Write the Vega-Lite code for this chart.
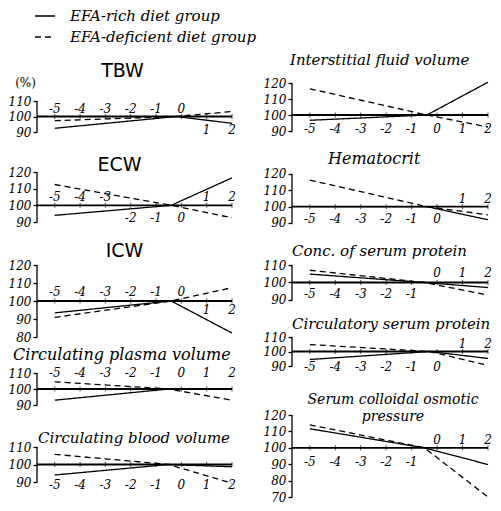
{
"$schema": "https://vega.github.io/schema/vega-lite/v6.json",
"background": "white",
"padding": {"left": 8, "top": 5, "right": 13, "bottom": 8},
"datasets": {
"ticks": [{"t": -5}, {"t": -4}, {"t": -3}, {"t": -2}, {"t": -1}, {"t": 0}, {"t": 1}, {"t": 2}],
"lines": [
{"panel": "TBW", "group": "EFA-rich diet group", "x": -5, "y": 92.4}, {"panel": "TBW", "group": "EFA-rich diet group", "x": -0.2, "y": 100}, {"panel": "TBW", "group": "EFA-rich diet group", "x": 2, "y": 95.6},
{"panel": "TBW", "group": "EFA-deficient diet group", "x": -5, "y": 97.3}, {"panel": "TBW", "group": "EFA-deficient diet group", "x": -0.2, "y": 100}, {"panel": "TBW", "group": "EFA-deficient diet group", "x": 2, "y": 103.2},
{"panel": "ECW", "group": "EFA-rich diet group", "x": -5, "y": 94}, {"panel": "ECW", "group": "EFA-rich diet group", "x": -0.4, "y": 100}, {"panel": "ECW", "group": "EFA-rich diet group", "x": 2, "y": 116.5},
{"panel": "ECW", "group": "EFA-deficient diet group", "x": -5, "y": 112.5}, {"panel": "ECW", "group": "EFA-deficient diet group", "x": -0.4, "y": 100}, {"panel": "ECW", "group": "EFA-deficient diet group", "x": 2, "y": 92.5},
{"panel": "ICW", "group": "EFA-rich diet group", "x": -5, "y": 93.4}, {"panel": "ICW", "group": "EFA-rich diet group", "x": -0.4, "y": 100}, {"panel": "ICW", "group": "EFA-rich diet group", "x": 2, "y": 82.2},
{"panel": "ICW", "group": "EFA-deficient diet group", "x": -5, "y": 90.9}, {"panel": "ICW", "group": "EFA-deficient diet group", "x": -0.4, "y": 100}, {"panel": "ICW", "group": "EFA-deficient diet group", "x": 2, "y": 107.4},
{"panel": "Plasma", "group": "EFA-rich diet group", "x": -5, "y": 93}, {"panel": "Plasma", "group": "EFA-rich diet group", "x": -0.5, "y": 100}, {"panel": "Plasma", "group": "EFA-rich diet group", "x": 2, "y": 100},
{"panel": "Plasma", "group": "EFA-deficient diet group", "x": -5, "y": 104.5}, {"panel": "Plasma", "group": "EFA-deficient diet group", "x": -0.5, "y": 100}, {"panel": "Plasma", "group": "EFA-deficient diet group", "x": 2, "y": 93},
{"panel": "Blood", "group": "EFA-rich diet group", "x": -5, "y": 94}, {"panel": "Blood", "group": "EFA-rich diet group", "x": -0.5, "y": 100}, {"panel": "Blood", "group": "EFA-rich diet group", "x": 2, "y": 98.7},
{"panel": "Blood", "group": "EFA-deficient diet group", "x": -5, "y": 105.8}, {"panel": "Blood", "group": "EFA-deficient diet group", "x": -0.5, "y": 100}, {"panel": "Blood", "group": "EFA-deficient diet group", "x": 2, "y": 89.3},
{"panel": "Inter", "group": "EFA-rich diet group", "x": -5, "y": 96.7}, {"panel": "Inter", "group": "EFA-rich diet group", "x": -0.4, "y": 100}, {"panel": "Inter", "group": "EFA-rich diet group", "x": 2, "y": 120.5},
{"panel": "Inter", "group": "EFA-deficient diet group", "x": -5, "y": 116.4}, {"panel": "Inter", "group": "EFA-deficient diet group", "x": -0.4, "y": 100}, {"panel": "Inter", "group": "EFA-deficient diet group", "x": 2, "y": 92.5},
{"panel": "Hema", "group": "EFA-rich diet group", "x": -5, "y": 100}, {"panel": "Hema", "group": "EFA-rich diet group", "x": -0.4, "y": 100}, {"panel": "Hema", "group": "EFA-rich diet group", "x": 2, "y": 92},
{"panel": "Hema", "group": "EFA-deficient diet group", "x": -5, "y": 116.3}, {"panel": "Hema", "group": "EFA-deficient diet group", "x": -0.4, "y": 100}, {"panel": "Hema", "group": "EFA-deficient diet group", "x": 2, "y": 95},
{"panel": "Conc", "group": "EFA-rich diet group", "x": -5, "y": 104.8}, {"panel": "Conc", "group": "EFA-rich diet group", "x": -0.5, "y": 100}, {"panel": "Conc", "group": "EFA-rich diet group", "x": 2, "y": 97.1},
{"panel": "Conc", "group": "EFA-deficient diet group", "x": -5, "y": 107}, {"panel": "Conc", "group": "EFA-deficient diet group", "x": -0.5, "y": 100}, {"panel": "Conc", "group": "EFA-deficient diet group", "x": 2, "y": 92.8},
{"panel": "Circ", "group": "EFA-rich diet group", "x": -5, "y": 94.5}, {"panel": "Circ", "group": "EFA-rich diet group", "x": -0.3, "y": 100}, {"panel": "Circ", "group": "EFA-rich diet group", "x": 2, "y": 95.2},
{"panel": "Circ", "group": "EFA-deficient diet group", "x": -5, "y": 104.8}, {"panel": "Circ", "group": "EFA-deficient diet group", "x": -0.3, "y": 100}, {"panel": "Circ", "group": "EFA-deficient diet group", "x": 2, "y": 90.4},
{"panel": "Osm", "group": "EFA-rich diet group", "x": -5, "y": 111.6}, {"panel": "Osm", "group": "EFA-rich diet group", "x": -0.5, "y": 100}, {"panel": "Osm", "group": "EFA-rich diet group", "x": 2, "y": 89.8},
{"panel": "Osm", "group": "EFA-deficient diet group", "x": -5, "y": 114}, {"panel": "Osm", "group": "EFA-deficient diet group", "x": -0.5, "y": 100}, {"panel": "Osm", "group": "EFA-deficient diet group", "x": 2, "y": 70}
]
},
"columns": 2,
"align": "none",
"bounds": "flush",
"spacing": {"row": 0, "column": 60},
"concat": [
{
"width": 195, "height": 89,
"title": {"text": "TBW", "font": "DejaVu Sans", "fontStyle": "normal", "fontSize": 19, "anchor": "middle", "dx": -12, "offset": -5},
"layer": [
{"data": {"values": [{}]}, "mark": {"type": "rule", "color": "black", "strokeWidth": 1.3},
 "encoding": {"x": {"datum": -5.7, "type": "quantitative", "scale": {"domain": [-5.7, 2], "nice": false, "zero": false}, "axis": null},
  "y": {"datum": 90, "type": "quantitative", "title": "(%)", "scale": {"domain": [64.194, 121.613], "nice": false, "zero": false}, "axis": {"values": [90, 100, 110], "labelOverlap": false, "tickCount": 20}},
  "y2": {"datum": 110}}},
{"data": {"values": [{}]}, "mark": {"type": "rule", "color": "black", "strokeWidth": 1.8},
 "encoding": {"y": {"datum": 100, "type": "quantitative", "title": "(%)", "scale": {"domain": [64.194, 121.613], "nice": false, "zero": false}}}},
{"data": {"name": "ticks"}, "mark": {"type": "tick", "orient": "vertical", "size": 5, "thickness": 1, "color": "black"},
 "encoding": {"x": {"field": "t", "type": "quantitative", "scale": {"domain": [-5.7, 2], "nice": false, "zero": false}, "axis": null},
  "y": {"datum": 100, "type": "quantitative", "title": "(%)", "scale": {"domain": [64.194, 121.613], "nice": false, "zero": false}}}},
{"data": {"name": "ticks"}, "transform": [{"filter": {"field": "t", "oneOf": [-5, -4, -3, -2, -1, 0]}}],
 "mark": {"type": "text", "dy": -8, "baseline": "middle", "font": "DejaVu Serif", "fontStyle": "italic", "fontSize": 12, "color": "black"},
 "encoding": {"x": {"field": "t", "type": "quantitative", "scale": {"domain": [-5.7, 2], "nice": false, "zero": false}, "axis": null},
  "y": {"datum": 100, "type": "quantitative", "title": "(%)", "scale": {"domain": [64.194, 121.613], "nice": false, "zero": false}},
  "text": {"field": "t", "type": "nominal"}}},
{"data": {"name": "ticks"}, "transform": [{"filter": {"field": "t", "oneOf": [1, 2]}}],
 "mark": {"type": "text", "dy": 13, "baseline": "middle", "font": "DejaVu Serif", "fontStyle": "italic", "fontSize": 12, "color": "black"},
 "encoding": {"x": {"field": "t", "type": "quantitative", "scale": {"domain": [-5.7, 2], "nice": false, "zero": false}, "axis": null},
  "y": {"datum": 100, "type": "quantitative", "title": "(%)", "scale": {"domain": [64.194, 121.613], "nice": false, "zero": false}},
  "text": {"field": "t", "type": "nominal"}}},
{"data": {"name": "lines"}, "transform": [{"filter": {"field": "panel", "equal": "TBW"}}],
 "mark": {"type": "line", "color": "black", "strokeWidth": 1.3},
 "encoding": {"x": {"field": "x", "type": "quantitative", "scale": {"domain": [-5.7, 2], "nice": false, "zero": false}, "axis": null},
  "y": {"field": "y", "type": "quantitative", "title": "(%)", "scale": {"domain": [64.194, 121.613], "nice": false, "zero": false}},
  "strokeDash": {"field": "group", "type": "nominal", "title": null, "scale": {"domain": ["EFA-rich diet group", "EFA-deficient diet group"], "range": [[1, 0], [6, 4]]}}}}
]
},
{
"width": 196, "height": 89,
"title": {"text": "Interstitial fluid volume", "anchor": "start", "dx": -2, "offset": 9, "fontSize": 15},
"layer": [
{"data": {"values": [{}]}, "mark": {"type": "rule", "color": "black", "strokeWidth": 1.3},
 "encoding": {"x": {"datum": -5.7, "type": "quantitative", "scale": {"domain": [-5.7, 2], "nice": false, "zero": false}, "axis": null},
  "y": {"datum": 90, "type": "quantitative", "title": null, "scale": {"domain": [64.375, 120], "nice": false, "zero": false}, "axis": {"values": [90, 100, 110, 120], "labelOverlap": false, "tickCount": 20}},
  "y2": {"datum": 120}}},
{"data": {"values": [{}]}, "mark": {"type": "rule", "color": "black", "strokeWidth": 1.8},
 "encoding": {"y": {"datum": 100, "type": "quantitative", "title": null, "scale": {"domain": [64.375, 120], "nice": false, "zero": false}}}},
{"data": {"name": "ticks"}, "mark": {"type": "tick", "orient": "vertical", "size": 5, "thickness": 1, "color": "black"},
 "encoding": {"x": {"field": "t", "type": "quantitative", "scale": {"domain": [-5.7, 2], "nice": false, "zero": false}, "axis": null},
  "y": {"datum": 100, "type": "quantitative", "title": null, "scale": {"domain": [64.375, 120], "nice": false, "zero": false}}}},
{"data": {"name": "ticks"},
 "mark": {"type": "text", "dy": 14, "baseline": "middle", "font": "DejaVu Serif", "fontStyle": "italic", "fontSize": 12, "color": "black"},
 "encoding": {"x": {"field": "t", "type": "quantitative", "scale": {"domain": [-5.7, 2], "nice": false, "zero": false}, "axis": null},
  "y": {"datum": 100, "type": "quantitative", "title": null, "scale": {"domain": [64.375, 120], "nice": false, "zero": false}},
  "text": {"field": "t", "type": "nominal"}}},
{"data": {"name": "lines"}, "transform": [{"filter": {"field": "panel", "equal": "Inter"}}],
 "mark": {"type": "line", "color": "black", "strokeWidth": 1.3},
 "encoding": {"x": {"field": "x", "type": "quantitative", "scale": {"domain": [-5.7, 2], "nice": false, "zero": false}, "axis": null},
  "y": {"field": "y", "type": "quantitative", "title": null, "scale": {"domain": [64.375, 120], "nice": false, "zero": false}},
  "strokeDash": {"field": "group", "type": "nominal", "title": null, "scale": {"domain": ["EFA-rich diet group", "EFA-deficient diet group"], "range": [[1, 0], [6, 4]]}}}}
]
},
{
"width": 195, "height": 93,
"title": {"text": "ECW", "font": "DejaVu Sans", "fontStyle": "normal", "fontSize": 19, "anchor": "middle", "dx": -15, "offset": -9},
"layer": [
{"data": {"values": [{}]}, "mark": {"type": "rule", "color": "black", "strokeWidth": 1.3},
 "encoding": {"x": {"datum": -5.7, "type": "quantitative", "scale": {"domain": [-5.7, 2], "nice": false, "zero": false}, "axis": null},
  "y": {"datum": 90, "type": "quantitative", "title": null, "scale": {"domain": [64.2, 120], "nice": false, "zero": false}, "axis": {"values": [90, 100, 110, 120], "labelOverlap": false, "tickCount": 20}},
  "y2": {"datum": 120}}},
{"data": {"values": [{}]}, "mark": {"type": "rule", "color": "black", "strokeWidth": 1.8},
 "encoding": {"y": {"datum": 100, "type": "quantitative", "title": null, "scale": {"domain": [64.2, 120], "nice": false, "zero": false}}}},
{"data": {"name": "ticks"}, "mark": {"type": "tick", "orient": "vertical", "size": 5, "thickness": 1, "color": "black"},
 "encoding": {"x": {"field": "t", "type": "quantitative", "scale": {"domain": [-5.7, 2], "nice": false, "zero": false}, "axis": null},
  "y": {"datum": 100, "type": "quantitative", "title": null, "scale": {"domain": [64.2, 120], "nice": false, "zero": false}}}},
{"data": {"name": "ticks"}, "transform": [{"filter": {"field": "t", "oneOf": [-5, -4, -3, 1, 2]}}],
 "mark": {"type": "text", "dy": -8, "baseline": "middle", "font": "DejaVu Serif", "fontStyle": "italic", "fontSize": 12, "color": "black"},
 "encoding": {"x": {"field": "t", "type": "quantitative", "scale": {"domain": [-5.7, 2], "nice": false, "zero": false}, "axis": null},
  "y": {"datum": 100, "type": "quantitative", "title": null, "scale": {"domain": [64.2, 120], "nice": false, "zero": false}},
  "text": {"field": "t", "type": "nominal"}}},
{"data": {"name": "ticks"}, "transform": [{"filter": {"field": "t", "oneOf": [-2, -1, 0]}}],
 "mark": {"type": "text", "dy": 13, "baseline": "middle", "font": "DejaVu Serif", "fontStyle": "italic", "fontSize": 12, "color": "black"},
 "encoding": {"x": {"field": "t", "type": "quantitative", "scale": {"domain": [-5.7, 2], "nice": false, "zero": false}, "axis": null},
  "y": {"datum": 100, "type": "quantitative", "title": null, "scale": {"domain": [64.2, 120], "nice": false, "zero": false}},
  "text": {"field": "t", "type": "nominal"}}},
{"data": {"name": "lines"}, "transform": [{"filter": {"field": "panel", "equal": "ECW"}}],
 "mark": {"type": "line", "color": "black", "strokeWidth": 1.3},
 "encoding": {"x": {"field": "x", "type": "quantitative", "scale": {"domain": [-5.7, 2], "nice": false, "zero": false}, "axis": null},
  "y": {"field": "y", "type": "quantitative", "title": null, "scale": {"domain": [64.2, 120], "nice": false, "zero": false}},
  "strokeDash": {"field": "group", "type": "nominal", "title": null, "scale": {"domain": ["EFA-rich diet group", "EFA-deficient diet group"], "range": [[1, 0], [6, 4]]}}}}
]
},
{
"width": 196, "height": 93,
"title": {"text": "Hematocrit", "anchor": "start", "dx": 36, "offset": 1, "fontSize": 16},
"layer": [
{"data": {"values": [{}]}, "mark": {"type": "rule", "color": "black", "strokeWidth": 1.3},
 "encoding": {"x": {"datum": -5.7, "type": "quantitative", "scale": {"domain": [-5.7, 2], "nice": false, "zero": false}, "axis": null},
  "y": {"datum": 90, "type": "quantitative", "title": null, "scale": {"domain": [64.286, 121.224], "nice": false, "zero": false}, "axis": {"values": [90, 100, 110, 120], "labelOverlap": false, "tickCount": 20}},
  "y2": {"datum": 120}}},
{"data": {"values": [{}]}, "mark": {"type": "rule", "color": "black", "strokeWidth": 1.8},
 "encoding": {"y": {"datum": 100, "type": "quantitative", "title": null, "scale": {"domain": [64.286, 121.224], "nice": false, "zero": false}}}},
{"data": {"name": "ticks"}, "mark": {"type": "tick", "orient": "vertical", "size": 5, "thickness": 1, "color": "black"},
 "encoding": {"x": {"field": "t", "type": "quantitative", "scale": {"domain": [-5.7, 2], "nice": false, "zero": false}, "axis": null},
  "y": {"datum": 100, "type": "quantitative", "title": null, "scale": {"domain": [64.286, 121.224], "nice": false, "zero": false}}}},
{"data": {"name": "ticks"}, "transform": [{"filter": {"field": "t", "oneOf": [1, 2]}}],
 "mark": {"type": "text", "dy": -8, "baseline": "middle", "font": "DejaVu Serif", "fontStyle": "italic", "fontSize": 12, "color": "black"},
 "encoding": {"x": {"field": "t", "type": "quantitative", "scale": {"domain": [-5.7, 2], "nice": false, "zero": false}, "axis": null},
  "y": {"datum": 100, "type": "quantitative", "title": null, "scale": {"domain": [64.286, 121.224], "nice": false, "zero": false}},
  "text": {"field": "t", "type": "nominal"}}},
{"data": {"name": "ticks"}, "transform": [{"filter": {"field": "t", "oneOf": [-5, -4, -3, -2, -1, 0]}}],
 "mark": {"type": "text", "dy": 12, "baseline": "middle", "font": "DejaVu Serif", "fontStyle": "italic", "fontSize": 12, "color": "black"},
 "encoding": {"x": {"field": "t", "type": "quantitative", "scale": {"domain": [-5.7, 2], "nice": false, "zero": false}, "axis": null},
  "y": {"datum": 100, "type": "quantitative", "title": null, "scale": {"domain": [64.286, 121.224], "nice": false, "zero": false}},
  "text": {"field": "t", "type": "nominal"}}},
{"data": {"name": "lines"}, "transform": [{"filter": {"field": "panel", "equal": "Hema"}}],
 "mark": {"type": "line", "color": "black", "strokeWidth": 1.3},
 "encoding": {"x": {"field": "x", "type": "quantitative", "scale": {"domain": [-5.7, 2], "nice": false, "zero": false}, "axis": null},
  "y": {"field": "y", "type": "quantitative", "title": null, "scale": {"domain": [64.286, 121.224], "nice": false, "zero": false}},
  "strokeDash": {"field": "group", "type": "nominal", "title": null, "scale": {"domain": ["EFA-rich diet group", "EFA-deficient diet group"], "range": [[1, 0], [6, 4]]}}}}
]
},
{
"width": 195, "height": 72,
"title": {"text": "ICW", "font": "DejaVu Sans", "fontStyle": "normal", "fontSize": 19, "anchor": "middle", "dx": -10, "offset": -2},
"layer": [
{"data": {"values": [{}]}, "mark": {"type": "rule", "color": "black", "strokeWidth": 1.3},
 "encoding": {"x": {"datum": -5.7, "type": "quantitative", "scale": {"domain": [-5.7, 2], "nice": false, "zero": false}, "axis": null},
  "y": {"datum": 80, "type": "quantitative", "title": null, "scale": {"domain": [80, 120], "nice": false, "zero": false}, "axis": {"values": [80, 90, 100, 110, 120], "labelOverlap": false, "tickCount": 20}},
  "y2": {"datum": 120}}},
{"data": {"values": [{}]}, "mark": {"type": "rule", "color": "black", "strokeWidth": 1.8},
 "encoding": {"y": {"datum": 100, "type": "quantitative", "title": null, "scale": {"domain": [80, 120], "nice": false, "zero": false}}}},
{"data": {"name": "ticks"}, "mark": {"type": "tick", "orient": "vertical", "size": 5, "thickness": 1, "color": "black"},
 "encoding": {"x": {"field": "t", "type": "quantitative", "scale": {"domain": [-5.7, 2], "nice": false, "zero": false}, "axis": null},
  "y": {"datum": 100, "type": "quantitative", "title": null, "scale": {"domain": [80, 120], "nice": false, "zero": false}}}},
{"data": {"name": "ticks"}, "transform": [{"filter": {"field": "t", "oneOf": [-5, -4, -3, -2, -1, 0]}}],
 "mark": {"type": "text", "dy": -9, "baseline": "middle", "font": "DejaVu Serif", "fontStyle": "italic", "fontSize": 12, "color": "black"},
 "encoding": {"x": {"field": "t", "type": "quantitative", "scale": {"domain": [-5.7, 2], "nice": false, "zero": false}, "axis": null},
  "y": {"datum": 100, "type": "quantitative", "title": null, "scale": {"domain": [80, 120], "nice": false, "zero": false}},
  "text": {"field": "t", "type": "nominal"}}},
{"data": {"name": "ticks"}, "transform": [{"filter": {"field": "t", "oneOf": [1, 2]}}],
 "mark": {"type": "text", "dy": 9, "baseline": "middle", "font": "DejaVu Serif", "fontStyle": "italic", "fontSize": 12, "color": "black"},
 "encoding": {"x": {"field": "t", "type": "quantitative", "scale": {"domain": [-5.7, 2], "nice": false, "zero": false}, "axis": null},
  "y": {"datum": 100, "type": "quantitative", "title": null, "scale": {"domain": [80, 120], "nice": false, "zero": false}},
  "text": {"field": "t", "type": "nominal"}}},
{"data": {"name": "lines"}, "transform": [{"filter": {"field": "panel", "equal": "ICW"}}],
 "mark": {"type": "line", "color": "black", "strokeWidth": 1.3},
 "encoding": {"x": {"field": "x", "type": "quantitative", "scale": {"domain": [-5.7, 2], "nice": false, "zero": false}, "axis": null},
  "y": {"field": "y", "type": "quantitative", "title": null, "scale": {"domain": [80, 120], "nice": false, "zero": false}},
  "strokeDash": {"field": "group", "type": "nominal", "title": null, "scale": {"domain": ["EFA-rich diet group", "EFA-deficient diet group"], "range": [[1, 0], [6, 4]]}}}}
]
},
{
"width": 196, "height": 72,
"title": {"text": "Conc. of serum protein", "anchor": "start", "dx": 0, "offset": 0, "fontSize": 15},
"layer": [
{"data": {"values": [{}]}, "mark": {"type": "rule", "color": "black", "strokeWidth": 1.3},
 "encoding": {"x": {"datum": -5.7, "type": "quantitative", "scale": {"domain": [-5.7, 2], "nice": false, "zero": false}, "axis": null},
  "y": {"datum": 90, "type": "quantitative", "title": null, "scale": {"domain": [68.857, 110], "nice": false, "zero": false}, "axis": {"values": [90, 100, 110], "labelOverlap": false, "tickCount": 20}},
  "y2": {"datum": 110}}},
{"data": {"values": [{}]}, "mark": {"type": "rule", "color": "black", "strokeWidth": 1.8},
 "encoding": {"y": {"datum": 100, "type": "quantitative", "title": null, "scale": {"domain": [68.857, 110], "nice": false, "zero": false}}}},
{"data": {"name": "ticks"}, "mark": {"type": "tick", "orient": "vertical", "size": 5, "thickness": 1, "color": "black"},
 "encoding": {"x": {"field": "t", "type": "quantitative", "scale": {"domain": [-5.7, 2], "nice": false, "zero": false}, "axis": null},
  "y": {"datum": 100, "type": "quantitative", "title": null, "scale": {"domain": [68.857, 110], "nice": false, "zero": false}}}},
{"data": {"name": "ticks"}, "transform": [{"filter": {"field": "t", "oneOf": [0, 1, 2]}}],
 "mark": {"type": "text", "dy": -9, "baseline": "middle", "font": "DejaVu Serif", "fontStyle": "italic", "fontSize": 12, "color": "black"},
 "encoding": {"x": {"field": "t", "type": "quantitative", "scale": {"domain": [-5.7, 2], "nice": false, "zero": false}, "axis": null},
  "y": {"datum": 100, "type": "quantitative", "title": null, "scale": {"domain": [68.857, 110], "nice": false, "zero": false}},
  "text": {"field": "t", "type": "nominal"}}},
{"data": {"name": "ticks"}, "transform": [{"filter": {"field": "t", "oneOf": [-5, -4, -3, -2, -1]}}],
 "mark": {"type": "text", "dy": 12, "baseline": "middle", "font": "DejaVu Serif", "fontStyle": "italic", "fontSize": 12, "color": "black"},
 "encoding": {"x": {"field": "t", "type": "quantitative", "scale": {"domain": [-5.7, 2], "nice": false, "zero": false}, "axis": null},
  "y": {"datum": 100, "type": "quantitative", "title": null, "scale": {"domain": [68.857, 110], "nice": false, "zero": false}},
  "text": {"field": "t", "type": "nominal"}}},
{"data": {"name": "lines"}, "transform": [{"filter": {"field": "panel", "equal": "Conc"}}],
 "mark": {"type": "line", "color": "black", "strokeWidth": 1.3},
 "encoding": {"x": {"field": "x", "type": "quantitative", "scale": {"domain": [-5.7, 2], "nice": false, "zero": false}, "axis": null},
  "y": {"field": "y", "type": "quantitative", "title": null, "scale": {"domain": [68.857, 110], "nice": false, "zero": false}},
  "strokeDash": {"field": "group", "type": "nominal", "title": null, "scale": {"domain": ["EFA-rich diet group", "EFA-deficient diet group"], "range": [[1, 0], [6, 4]]}}}}
]
},
{
"width": 195, "height": 78,
"title": {"text": "Circulating plasma volume", "anchor": "start", "dx": -24, "offset": -26, "fontSize": 16},
"layer": [
{"data": {"values": [{}]}, "mark": {"type": "rule", "color": "black", "strokeWidth": 1.3},
 "encoding": {"x": {"datum": -5.7, "type": "quantitative", "scale": {"domain": [-5.7, 2], "nice": false, "zero": false}, "axis": null},
  "y": {"datum": 90, "type": "quantitative", "title": null, "scale": {"domain": [83.75, 132.5], "nice": false, "zero": false}, "axis": {"values": [90, 100, 110], "labelOverlap": false, "tickCount": 20}},
  "y2": {"datum": 110}}},
{"data": {"values": [{}]}, "mark": {"type": "rule", "color": "black", "strokeWidth": 1.8},
 "encoding": {"y": {"datum": 100, "type": "quantitative", "title": null, "scale": {"domain": [83.75, 132.5], "nice": false, "zero": false}}}},
{"data": {"name": "ticks"}, "mark": {"type": "tick", "orient": "vertical", "size": 5, "thickness": 1, "color": "black"},
 "encoding": {"x": {"field": "t", "type": "quantitative", "scale": {"domain": [-5.7, 2], "nice": false, "zero": false}, "axis": null},
  "y": {"datum": 100, "type": "quantitative", "title": null, "scale": {"domain": [83.75, 132.5], "nice": false, "zero": false}}}},
{"data": {"name": "ticks"},
 "mark": {"type": "text", "dy": -16, "baseline": "middle", "font": "DejaVu Serif", "fontStyle": "italic", "fontSize": 12, "color": "black"},
 "encoding": {"x": {"field": "t", "type": "quantitative", "scale": {"domain": [-5.7, 2], "nice": false, "zero": false}, "axis": null},
  "y": {"datum": 100, "type": "quantitative", "title": null, "scale": {"domain": [83.75, 132.5], "nice": false, "zero": false}},
  "text": {"field": "t", "type": "nominal"}}},
{"data": {"name": "lines"}, "transform": [{"filter": {"field": "panel", "equal": "Plasma"}}],
 "mark": {"type": "line", "color": "black", "strokeWidth": 1.3},
 "encoding": {"x": {"field": "x", "type": "quantitative", "scale": {"domain": [-5.7, 2], "nice": false, "zero": false}, "axis": null},
  "y": {"field": "y", "type": "quantitative", "title": null, "scale": {"domain": [83.75, 132.5], "nice": false, "zero": false}},
  "strokeDash": {"field": "group", "type": "nominal", "title": null, "scale": {"domain": ["EFA-rich diet group", "EFA-deficient diet group"], "range": [[1, 0], [6, 4]]}}}}
]
},
{
"width": 196, "height": 78,
"title": {"text": "Circulatory serum protein", "anchor": "start", "dx": 0, "offset": -1, "fontSize": 15},
"layer": [
{"data": {"values": [{}]}, "mark": {"type": "rule", "color": "black", "strokeWidth": 1.3},
 "encoding": {"x": {"datum": -5.7, "type": "quantitative", "scale": {"domain": [-5.7, 2], "nice": false, "zero": false}, "axis": null},
  "y": {"datum": 90, "type": "quantitative", "title": null, "scale": {"domain": [56.207, 110], "nice": false, "zero": false}, "axis": {"values": [90, 100, 110], "labelOverlap": false, "tickCount": 20}},
  "y2": {"datum": 110}}},
{"data": {"values": [{}]}, "mark": {"type": "rule", "color": "black", "strokeWidth": 1.8},
 "encoding": {"y": {"datum": 100, "type": "quantitative", "title": null, "scale": {"domain": [56.207, 110], "nice": false, "zero": false}}}},
{"data": {"name": "ticks"}, "mark": {"type": "tick", "orient": "vertical", "size": 5, "thickness": 1, "color": "black"},
 "encoding": {"x": {"field": "t", "type": "quantitative", "scale": {"domain": [-5.7, 2], "nice": false, "zero": false}, "axis": null},
  "y": {"datum": 100, "type": "quantitative", "title": null, "scale": {"domain": [56.207, 110], "nice": false, "zero": false}}}},
{"data": {"name": "ticks"}, "transform": [{"filter": {"field": "t", "oneOf": [1, 2]}}],
 "mark": {"type": "text", "dy": -8, "baseline": "middle", "font": "DejaVu Serif", "fontStyle": "italic", "fontSize": 12, "color": "black"},
 "encoding": {"x": {"field": "t", "type": "quantitative", "scale": {"domain": [-5.7, 2], "nice": false, "zero": false}, "axis": null},
  "y": {"datum": 100, "type": "quantitative", "title": null, "scale": {"domain": [56.207, 110], "nice": false, "zero": false}},
  "text": {"field": "t", "type": "nominal"}}},
{"data": {"name": "ticks"}, "transform": [{"filter": {"field": "t", "oneOf": [-5, -4, -3, -2, -1, 0]}}],
 "mark": {"type": "text", "dy": 15, "baseline": "middle", "font": "DejaVu Serif", "fontStyle": "italic", "fontSize": 12, "color": "black"},
 "encoding": {"x": {"field": "t", "type": "quantitative", "scale": {"domain": [-5.7, 2], "nice": false, "zero": false}, "axis": null},
  "y": {"datum": 100, "type": "quantitative", "title": null, "scale": {"domain": [56.207, 110], "nice": false, "zero": false}},
  "text": {"field": "t", "type": "nominal"}}},
{"data": {"name": "lines"}, "transform": [{"filter": {"field": "panel", "equal": "Circ"}}],
 "mark": {"type": "line", "color": "black", "strokeWidth": 1.3},
 "encoding": {"x": {"field": "x", "type": "quantitative", "scale": {"domain": [-5.7, 2], "nice": false, "zero": false}, "axis": null},
  "y": {"field": "y", "type": "quantitative", "title": null, "scale": {"domain": [56.207, 110], "nice": false, "zero": false}},
  "strokeDash": {"field": "group", "type": "nominal", "title": null, "scale": {"domain": ["EFA-rich diet group", "EFA-deficient diet group"], "range": [[1, 0], [6, 4]]}}}}
]
},
{
"width": 195, "height": 82,
"title": {"text": "Circulating blood volume", "anchor": "start", "dx": 1, "offset": -31, "fontSize": 15},
"layer": [
{"data": {"values": [{}]}, "mark": {"type": "rule", "color": "black", "strokeWidth": 1.3},
 "encoding": {"x": {"datum": -5.7, "type": "quantitative", "scale": {"domain": [-5.7, 2], "nice": false, "zero": false}, "axis": null},
  "y": {"datum": 90, "type": "quantitative", "title": null, "scale": {"domain": [81.429, 128.286], "nice": false, "zero": false}, "axis": {"values": [90, 100, 110], "labelOverlap": false, "tickCount": 20}},
  "y2": {"datum": 110}}},
{"data": {"values": [{}]}, "mark": {"type": "rule", "color": "black", "strokeWidth": 1.8},
 "encoding": {"y": {"datum": 100, "type": "quantitative", "title": null, "scale": {"domain": [81.429, 128.286], "nice": false, "zero": false}}}},
{"data": {"name": "ticks"}, "mark": {"type": "tick", "orient": "vertical", "size": 5, "thickness": 1, "color": "black"},
 "encoding": {"x": {"field": "t", "type": "quantitative", "scale": {"domain": [-5.7, 2], "nice": false, "zero": false}, "axis": null},
  "y": {"datum": 100, "type": "quantitative", "title": null, "scale": {"domain": [81.429, 128.286], "nice": false, "zero": false}}}},
{"data": {"name": "ticks"},
 "mark": {"type": "text", "dy": 20, "baseline": "middle", "font": "DejaVu Serif", "fontStyle": "italic", "fontSize": 12, "color": "black"},
 "encoding": {"x": {"field": "t", "type": "quantitative", "scale": {"domain": [-5.7, 2], "nice": false, "zero": false}, "axis": null},
  "y": {"datum": 100, "type": "quantitative", "title": null, "scale": {"domain": [81.429, 128.286], "nice": false, "zero": false}},
  "text": {"field": "t", "type": "nominal"}}},
{"data": {"name": "lines"}, "transform": [{"filter": {"field": "panel", "equal": "Blood"}}],
 "mark": {"type": "line", "color": "black", "strokeWidth": 1.3},
 "encoding": {"x": {"field": "x", "type": "quantitative", "scale": {"domain": [-5.7, 2], "nice": false, "zero": false}, "axis": null},
  "y": {"field": "y", "type": "quantitative", "title": null, "scale": {"domain": [81.429, 128.286], "nice": false, "zero": false}},
  "strokeDash": {"field": "group", "type": "nominal", "title": null, "scale": {"domain": ["EFA-rich diet group", "EFA-deficient diet group"], "range": [[1, 0], [6, 4]]}}}}
]
},
{
"width": 196, "height": 82,
"title": {"text": ["Serum colloidal osmotic", "pressure"], "anchor": "middle", "dx": 3, "offset": -15, "fontSize": 14, "lineHeight": 17},
"layer": [
{"data": {"values": [{}]}, "mark": {"type": "rule", "color": "black", "strokeWidth": 1.3},
 "encoding": {"x": {"datum": -5.7, "type": "quantitative", "scale": {"domain": [-5.7, 2], "nice": false, "zero": false}, "axis": null},
  "y": {"datum": 70, "type": "quantitative", "title": null, "scale": {"domain": [70, 120], "nice": false, "zero": false}, "axis": {"values": [70, 80, 90, 100, 110, 120], "labelOverlap": false, "tickCount": 20}},
  "y2": {"datum": 120}}},
{"data": {"values": [{}]}, "mark": {"type": "rule", "color": "black", "strokeWidth": 1.8},
 "encoding": {"y": {"datum": 100, "type": "quantitative", "title": null, "scale": {"domain": [70, 120], "nice": false, "zero": false}}}},
{"data": {"name": "ticks"}, "mark": {"type": "tick", "orient": "vertical", "size": 5, "thickness": 1, "color": "black"},
 "encoding": {"x": {"field": "t", "type": "quantitative", "scale": {"domain": [-5.7, 2], "nice": false, "zero": false}, "axis": null},
  "y": {"datum": 100, "type": "quantitative", "title": null, "scale": {"domain": [70, 120], "nice": false, "zero": false}}}},
{"data": {"name": "ticks"}, "transform": [{"filter": {"field": "t", "oneOf": [0, 1, 2]}}],
 "mark": {"type": "text", "dy": -8, "baseline": "middle", "font": "DejaVu Serif", "fontStyle": "italic", "fontSize": 12, "color": "black"},
 "encoding": {"x": {"field": "t", "type": "quantitative", "scale": {"domain": [-5.7, 2], "nice": false, "zero": false}, "axis": null},
  "y": {"datum": 100, "type": "quantitative", "title": null, "scale": {"domain": [70, 120], "nice": false, "zero": false}},
  "text": {"field": "t", "type": "nominal"}}},
{"data": {"name": "ticks"}, "transform": [{"filter": {"field": "t", "oneOf": [-5, -4, -3, -2, -1]}}],
 "mark": {"type": "text", "dy": 14, "baseline": "middle", "font": "DejaVu Serif", "fontStyle": "italic", "fontSize": 12, "color": "black"},
 "encoding": {"x": {"field": "t", "type": "quantitative", "scale": {"domain": [-5.7, 2], "nice": false, "zero": false}, "axis": null},
  "y": {"datum": 100, "type": "quantitative", "title": null, "scale": {"domain": [70, 120], "nice": false, "zero": false}},
  "text": {"field": "t", "type": "nominal"}}},
{"data": {"name": "lines"}, "transform": [{"filter": {"field": "panel", "equal": "Osm"}}],
 "mark": {"type": "line", "color": "black", "strokeWidth": 1.3},
 "encoding": {"x": {"field": "x", "type": "quantitative", "scale": {"domain": [-5.7, 2], "nice": false, "zero": false}, "axis": null},
  "y": {"field": "y", "type": "quantitative", "title": null, "scale": {"domain": [70, 120], "nice": false, "zero": false}},
  "strokeDash": {"field": "group", "type": "nominal", "title": null, "scale": {"domain": ["EFA-rich diet group", "EFA-deficient diet group"], "range": [[1, 0], [6, 4]]}}}}
]
}
],
"config": {
"view": {"stroke": null},
"title": {"font": "DejaVu Serif", "fontStyle": "italic", "fontWeight": "normal", "color": "black", "frame": "group", "baseline": "alphabetic"},
"axisY": {"domain": false, "grid": false, "ticks": true, "tickCount": 20, "tickSize": 4, "tickWidth": 1.3, "tickColor": "black", "labelFont": "DejaVu Serif", "labelFontStyle": "italic", "labelFontSize": 12, "labelColor": "black", "labelPadding": 2, "labelFlush": false, "labelOverlap": false, "titleAngle": 0, "titleAlign": "center", "titleBaseline": "alphabetic", "titleX": -12, "titleY": 3, "titleFont": "DejaVu Serif", "titleFontSize": 12, "titleFontWeight": "normal", "titleColor": "black"},
"legend": {"orient": "none", "legendX": -3, "legendY": -78, "symbolType": "stroke", "symbolSize": 400, "symbolStrokeWidth": 1.4, "symbolStrokeColor": "black", "labelFont": "DejaVu Serif", "labelFontStyle": "italic", "labelFontSize": 15, "labelColor": "black", "labelOffset": 14, "rowPadding": 2, "labelLimit": 400}
}
}
